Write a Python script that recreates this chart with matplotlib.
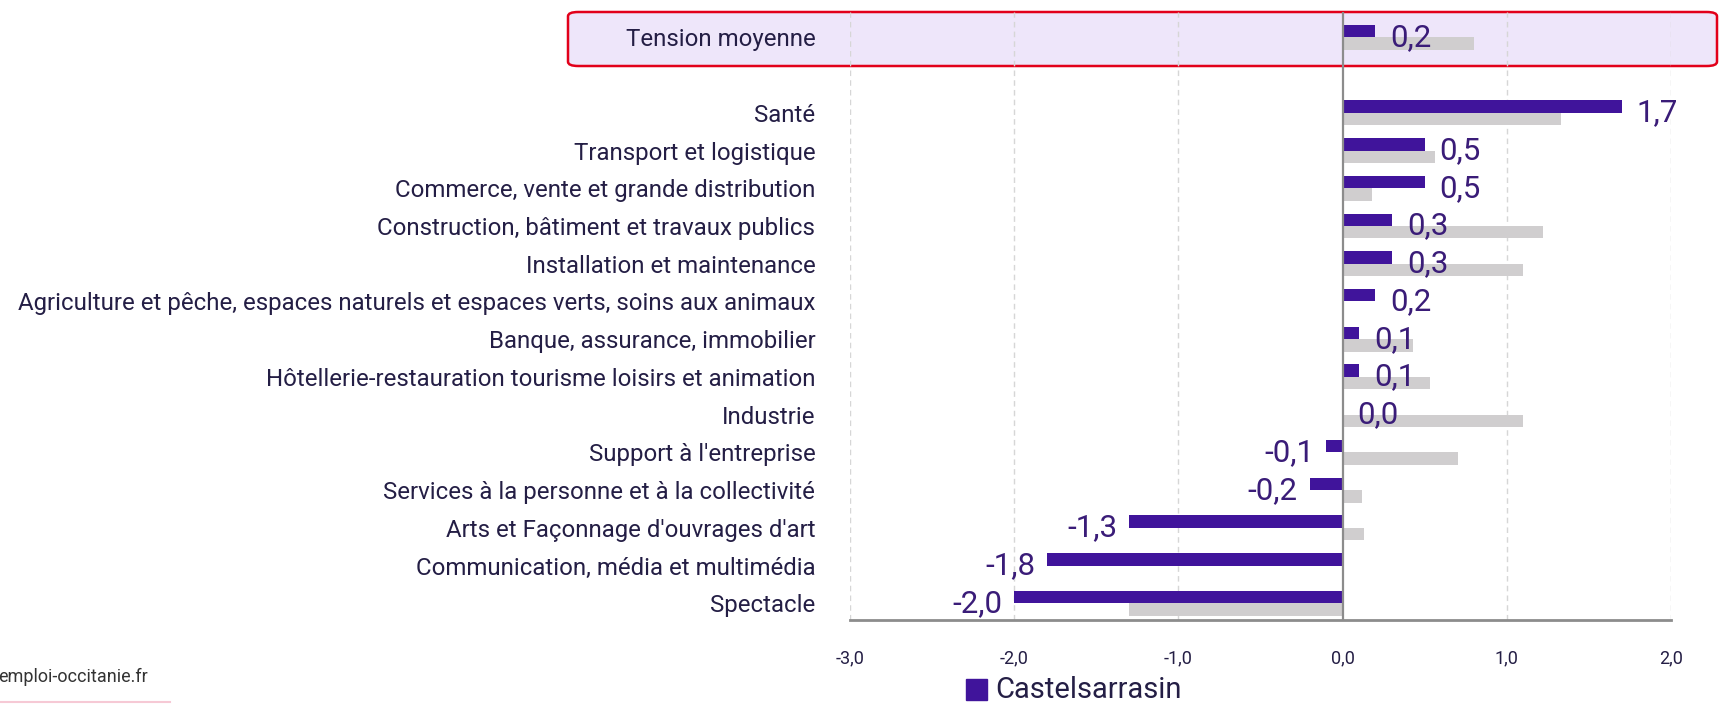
import numpy as np
import matplotlib
matplotlib.use("Agg")
import matplotlib.pyplot as plt
from matplotlib.patches import FancyBboxPatch, Rectangle
from matplotlib.lines import Line2D

plt.rcParams['font.family'] = ['Roboto', 'DejaVu Sans']

# data
categories = ["Tension moyenne", "Santé", "Transport et logistique",
              "Commerce, vente et grande distribution",
              "Construction, bâtiment et travaux publics",
              "Installation et maintenance",
              "Agriculture et pêche, espaces naturels et espaces verts, soins aux animaux",
              "Banque, assurance, immobilier",
              "Hôtellerie-restauration tourisme loisirs et animation",
              "Industrie", "Support à l'entreprise",
              "Services à la personne et à la collectivité",
              "Arts et Façonnage d'ouvrages d'art",
              "Communication, média et multimédia", "Spectacle"]
castelsarrasin = [0.2, 1.7, 0.5, 0.5, 0.3, 0.3, 0.2, 0.1, 0.1, 0.0, -0.1, -0.2, -1.3, -1.8, -2.0]
reference = [0.8, 1.33, 0.56, 0.18, 1.22, 1.10, 0.01, 0.43, 0.53, 1.10, 0.70, 0.12, 0.13, 0.0, -1.30]
xticks = [-3, -2, -1, 0, 1, 2]

purple = "#40149B"
grey = "#D0CECF"
txt = "#241E45"

W, H = 1720, 706
fig = plt.figure(figsize=(W / 100, H / 100), dpi=100)

# highlight box for the average row
box = FancyBboxPatch((568 / W, 1 - 66 / H), (1717 - 568) / W, (66 - 12) / H,
                     boxstyle="round,pad=0,rounding_size=0.006",
                     transform=fig.transFigure, facecolor="#EEE6FA",
                     edgecolor="#E2001A", linewidth=1.8, zorder=-1)
fig.patches.append(box)

ax = fig.add_axes([850 / W, 1 - 620 / H, (1671 - 850) / W, (620 - 12) / H])
ax.patch.set_alpha(0)

pos = np.array([0] + list(range(2, 16)), dtype=float)
h = 0.33
ax.barh(pos - h / 2, castelsarrasin, height=h, color=purple, zorder=3)
ax.barh(pos + h / 2, reference, height=h, color=grey, zorder=2)

for y, v in zip(pos, castelsarrasin):
    s = f"{v:.1f}".replace(".", ",")
    if v >= 0:
        ax.annotate(s, (v, y), xytext=(15, 0), textcoords="offset pixels",
                    ha="left", va="center", fontsize=22.5, color="#3A1C78",
                    zorder=4)
    else:
        ax.annotate(s, (v, y), xytext=(-12, 0), textcoords="offset pixels",
                    ha="right", va="center", fontsize=22.5, color="#3A1C78",
                    zorder=4)

ax.set_xlim(-3, 2)
ax.set_ylim(15.44, -0.67)
ax.set_yticks(pos)
ax.set_yticklabels(categories, fontsize=17.3, color=txt)
ax.set_xticks(xticks)
ax.set_xticklabels([f"{t:.1f}".replace(".", ",") for t in xticks],
                   fontsize=13, color=txt)
ax.tick_params(axis="y", length=0, pad=25)
ax.tick_params(axis="x", length=0, pad=21)

for t in xticks:
    if t == 0:
        ax.axvline(0, color="#8C8C8C", linewidth=1.6, zorder=4)
    else:
        ax.axvline(t, color="#D6D6D6", linewidth=1, linestyle=(0, (4, 3)), zorder=1)

for side in ["top", "right", "left"]:
    ax.spines[side].set_visible(False)
ax.spines["bottom"].set_color("#8C8C8C")
ax.spines["bottom"].set_linewidth(2)

# legend
fig.patches.append(Rectangle((966 / W, 1 - 700 / H), 21 / W, 21 / H,
                             transform=fig.transFigure, color=purple))
fig.text(995 / W, 1 - 690 / H, "Castelsarrasin", fontsize=21, color=txt,
         va="center", ha="left")

# footer
fig.text(-2 / W, 1 - 677 / H, "emploi-occitanie.fr", fontsize=13, color="#333333",
         va="center", ha="left")
fig.lines.append(Line2D([0, 170 / W], [1 - 702 / H, 1 - 702 / H],
                        transform=fig.transFigure, color="#F6C9D5", linewidth=1.5))
th = np.linspace(np.pi * 0.62, np.pi * 0.42, 30)
cx, cy, r = 1830, 790, 170
fig.lines.append(Line2D((cx + r * np.cos(th)) / W, 1 - (cy - r * np.sin(th)) / H,
                        transform=fig.transFigure, color="#E8456E", linewidth=5))

fig.savefig("out.png", dpi=100)
